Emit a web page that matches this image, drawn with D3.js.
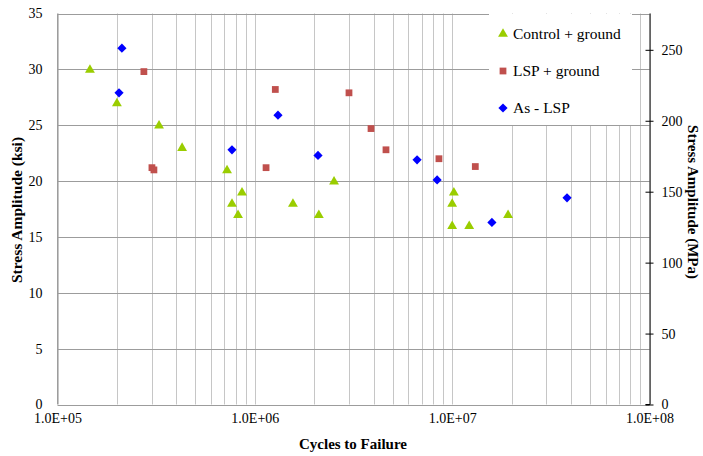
<!DOCTYPE html>
<html><head><meta charset="utf-8">
<script src="https://cdn.jsdelivr.net/npm/d3@7"></script>
<style>
html,body{margin:0;padding:0;background:#fff;}
svg text{font-family:"Liberation Serif","Times New Roman",Times,"DejaVu Serif",serif !important;fill:#000;}
</style></head>
<body><svg id="chart" width="703" height="456"></svg>
<script>
// Data (cycles to failure, stress amplitude in ksi)
const controlCycles = [1.46e5, 2.0e5, 3.27e5, 4.28e5, 7.23e5, 7.66e5, 8.22e5, 8.61e5, 1.56e6, 2.11e6, 2.52e6, 1.02e7, 1.0e7, 1.0e7, 1.22e7, 1.92e7];
const controlStress = [30, 27, 25, 23, 21, 18, 17, 19, 18, 17, 20, 19, 18, 16, 16, 17];
const lspCycles = [2.74e5, 3.01e5, 3.08e5, 1.14e6, 1.27e6, 3.0e6, 3.88e6, 4.62e6, 8.57e6, 1.31e7];
const lspStress = [29.8, 21.2, 21.0, 21.2, 28.2, 27.9, 24.7, 22.8, 22.0, 21.3];
const asCycles = [2.05e5, 2.12e5, 7.66e5, 1.31e6, 2.09e6, 6.64e6, 8.39e6, 1.59e7, 3.82e7];
const asStress = [27.9, 31.9, 22.8, 25.9, 22.3, 21.9, 20.1, 16.3, 18.5];
const seriesNames = ["Control + ground", "LSP + ground", "As - LSP"];
const xTickValues = [1e5, 1e6, 1e7, 1e8];
const xTickLabels = ["1.0E+05", "1.0E+06", "1.0E+07", "1.0E+08"];
const ksiTicks = [0, 5, 10, 15, 20, 25, 30, 35];
const mpaTicks = [0, 50, 100, 150, 200, 250];

const FONT = '"Liberation Serif","Times New Roman",Times,"DejaVu Serif",serif';
const svg = d3.select("#chart");
const L = 57.5, R = 649.5, T = 13.5, B = 404.5;
const x = d3.scaleLog().domain([1e5, 1e8]).range([L, R]);
const y = d3.scaleLinear().domain([0, 35]).range([B, T]);
const y2 = d3.scaleLinear().domain([0, 275.6]).range([B, T]);

// vertical gridlines (log minor + major)
const vgrid = [];
for (let d = 5; d < 8; d++) for (let m = 1; m <= 9; m++) vgrid.push(m * Math.pow(10, d));
vgrid.push(1e8);
svg.append("g").selectAll("line").data(vgrid).join("line")
  .attr("x1", d => Math.round(x(d)) + 0.5).attr("x2", d => Math.round(x(d)) + 0.5)
  .attr("y1", T).attr("y2", B)
  .attr("stroke", "#c6c6c6").attr("stroke-width", 1);
// horizontal gridlines
svg.append("g").selectAll("line").data(ksiTicks).join("line")
  .attr("x1", L).attr("x2", R)
  .attr("y1", d => Math.round(y(d)) + 0.5).attr("y2", d => Math.round(y(d)) + 0.5)
  .attr("stroke", "#9c9c9c").attr("stroke-width", 1);
svg.append("line").attr("x1", L).attr("x2", L).attr("y1", T).attr("y2", B).attr("stroke", "#9c9c9c");

// left axis
const yAxis = d3.axisLeft(y).tickValues(ksiTicks).tickSize(0).tickPadding(15);
const gy = svg.append("g").attr("transform", `translate(${L},0)`).call(yAxis).attr("font-family", FONT);
gy.select(".domain").remove();
gy.selectAll("text").style("font-size", "14px");

// x axis
const xAxis = d3.axisBottom(x).tickValues(xTickValues).tickSize(0).tickPadding(9)
  .tickFormat((d, i) => xTickLabels[i]);
const gx = svg.append("g").attr("transform", `translate(0,${B})`).call(xAxis).attr("font-family", FONT);
gx.select(".domain").remove();
gx.selectAll("text").style("font-size", "14px");

// right axis
const y2Axis = d3.axisRight(y2).tickValues(mpaTicks).tickSize(4).tickPadding(8);
const gr = svg.append("g").attr("transform", `translate(${R},0)`).call(y2Axis).attr("font-family", FONT);
gr.select(".domain").attr("stroke", "#000").attr("d", `M0.5,${T}V${B}`);
gr.selectAll(".tick line").attr("x1", -4).attr("x2", 4).attr("stroke", "#000");
gr.selectAll("text").style("font-size", "14px");
svg.append("line").attr("x1", R - 4).attr("x2", R + 0.5).attr("y1", B).attr("y2", B).attr("stroke", "#000");

// legend background
const lg = svg.append("g");
lg.append("rect").attr("x", 489).attr("y", 14).attr("width", 143).attr("height", 111).attr("fill", "#fff");

// markers
const tri = d3.symbol().type(d3.symbolTriangle).size(42);
const sq = d3.symbol().type(d3.symbolSquare).size(46);
const dia = "M0,-4.6L4.6,0L0,4.6L-4.6,0Z";

svg.append("g").selectAll("path").data(controlCycles.map((c, i) => [c, controlStress[i]])).join("path")
  .attr("d", tri).attr("transform", d => `translate(${x(d[0])},${y(d[1]) + 0.5})`).attr("fill", "#9acd00");
svg.append("g").selectAll("path").data(lspCycles.map((c, i) => [c, lspStress[i]])).join("path")
  .attr("d", sq).attr("transform", d => `translate(${x(d[0])},${y(d[1])})`).attr("fill", "#c0504d");
svg.append("g").selectAll("path").data(asCycles.map((c, i) => [c, asStress[i]])).join("path")
  .attr("d", dia).attr("transform", d => `translate(${x(d[0])},${y(d[1])})`).attr("fill", "#0000ff");

// legend entries
const legSyms = [[tri, "#9acd00"], [sq, "#c0504d"], [dia, "#0000ff"]];
seriesNames.forEach((name, i) => {
  const cy = 34 + i * 37;
  lg.append("path").attr("d", legSyms[i][0]).attr("fill", legSyms[i][1])
    .attr("transform", `translate(503,${cy})`);
  lg.append("text").attr("x", 513).attr("y", cy + 5).attr("font-family", FONT).style("font-size", "15.5px").text(name);
});

// axis titles
svg.append("text").attr("x", 353).attr("y", 449).attr("text-anchor", "middle").attr("font-family", FONT)
  .style("font-size", "15px").style("font-weight", "bold").text("Cycles to Failure");
svg.append("text").attr("transform", "translate(22,210) rotate(-90)").attr("text-anchor", "middle").attr("font-family", FONT)
  .style("font-size", "15.5px").style("font-weight", "bold").text("Stress Amplitude (ksi)");
svg.append("text").attr("transform", "translate(688,202) rotate(90)").attr("text-anchor", "middle").attr("font-family", FONT)
  .style("font-size", "15px").style("font-weight", "bold").text("Stress Amplitude (MPa)");
</script></body></html>
